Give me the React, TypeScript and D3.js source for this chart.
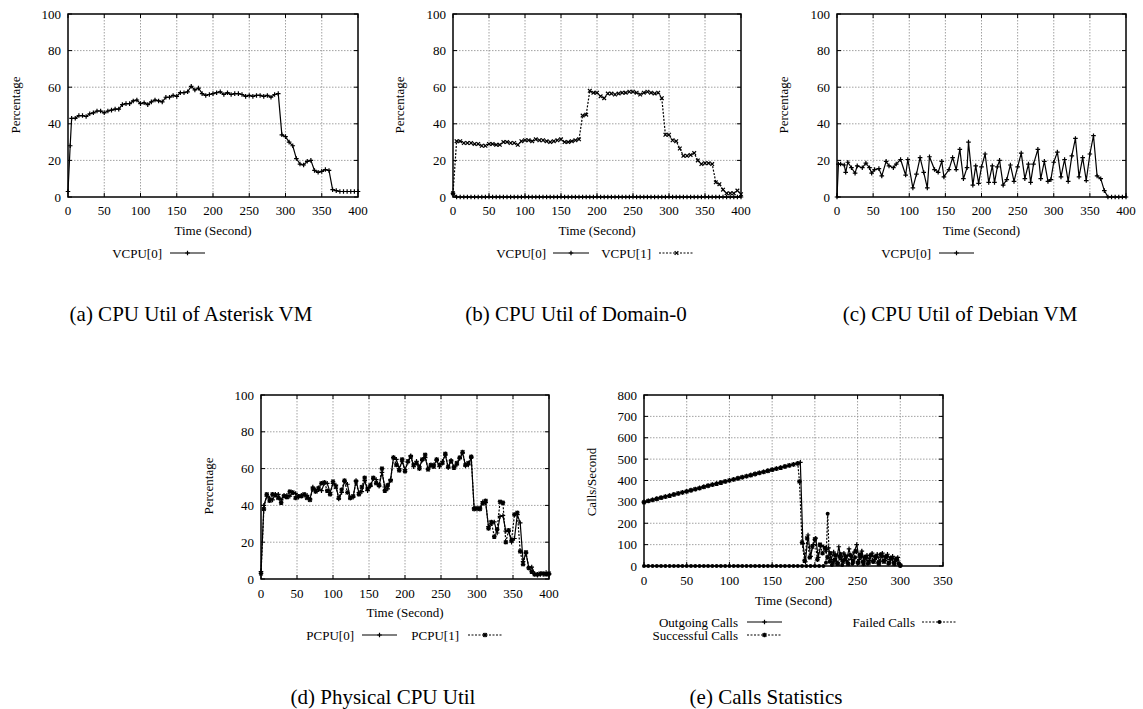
import React from 'react';
import * as d3 from 'd3';

const FONT = '"Liberation Serif", "Times New Roman", Times, serif';

// ---------- axis ticks ----------
const pctTicks = [0, 20, 40, 60, 80, 100];
const time400Ticks = [0, 50, 100, 150, 200, 250, 300, 350, 400];
const time350Ticks = [0, 50, 100, 150, 200, 250, 300, 350];
const callsTicks = [0, 100, 200, 300, 400, 500, 600, 700, 800];

// ---------- (a) CPU Util of Asterisk VM ----------
const asteriskTime = [0, 3, ...d3.range(5, 401, 5)];
const asteriskVcpu0 = [3, 28,
  43, 43, 44.5, 44.5, 44, 45.5, 46, 47, 47, 46,
  47, 47.5, 48, 48, 50.5, 51, 51, 52.5, 53, 51,
  51.5, 50.5, 52, 53, 52.5, 52, 54.5, 54.5, 55.5, 55,
  57, 57, 57.5, 60.5, 58.5, 59.5, 56.5, 55.5, 56, 56.5,
  57, 57.5, 56, 57, 56, 56.5, 56.5, 56, 55, 55.5,
  55, 55.5, 55.5, 55, 55.5, 54.5, 56, 56.5, 34, 33,
  30, 28, 21, 18, 17.5, 19.5, 20, 14.5, 13.5, 14,
  15, 14.5, 4, 3.5, 3, 3, 3, 3, 3, 3];

// ---------- (b) CPU Util of Domain-0 ----------
const domTime = d3.range(0, 401, 5);
const domVcpu0 = [2, 0, 0, 0, 0, 0, 0, 0, 0, 0, 0, 0, 0, 0, 0, 0, 0, 0, 0, 0,
  0, 0, 0, 0, 0, 0, 0, 0, 0, 0, 0, 0, 0, 0, 0, 0, 0, 0, 0, 0,
  0, 0, 0, 0, 0, 0, 0, 0, 0, 0, 0, 0, 0, 0, 0, 0, 0, 0, 0, 0,
  0, 0, 0, 0, 0, 0, 0, 0, 0, 0, 0, 0, 0, 0, 0, 0, 0, 0, 0, 0, 0];
const domVcpu1 = [2, 30.5, 30.5, 29.5, 29.5, 29.5, 29, 29, 28, 28,
  29, 29, 28.5, 28.5, 30, 30, 29.5, 29.5, 28.5, 30.5,
  31, 31, 30.5, 31.5, 31, 31, 30.5, 30, 30.5, 31,
  31.5, 30, 30, 30.5, 31, 31.5, 44.5, 45, 58, 57,
  57, 55, 54, 56.5, 56.5, 56, 56.5, 57, 57, 57.5,
  57.5, 57, 56, 57, 57.5, 57, 56.5, 57, 54, 34,
  34, 31, 30.5, 26.5, 22.5, 22.5, 23, 24, 20, 18,
  18.5, 18.5, 18, 8, 7, 4, 2, 2, 2, 3.5, 1.5];

// ---------- (c) CPU Util of Debian VM ----------
const debTime = [0, 2, 5, 10, 12, 15, 20, 25, 28, 35, 40, 45, 48, 52, 58, 62, 68, 72, 78, 82,
  88, 95, 98, 105, 110, 115, 120, 125, 128, 135, 140, 145, 148, 155, 160, 165, 170, 175, 180, 182,
  188, 192, 196, 200, 205, 210, 215, 218, 222, 225, 230, 235, 240, 245, 250, 255, 260, 265, 268, 272,
  278, 282, 287, 292, 296, 300, 305, 310, 315, 320, 325, 330, 335, 340, 345, 350, 355, 360, 365, 370,
  375, 380, 385, 390, 395, 400];
const debVcpu0 = [0, 18, 18, 17.5, 13.5, 19, 16, 13, 17, 16, 18.5, 16, 13, 15, 15.5, 11.5, 19.5, 17, 16, 18,
  20.5, 12, 20.5, 5, 12.5, 21.5, 13.5, 5, 22, 15, 13.5, 19.5, 11, 15, 21.5, 15, 26, 10, 16, 30,
  6.5, 17, 7.5, 16.5, 23.5, 8, 17, 8, 16.5, 20, 6.5, 9.5, 17.5, 8.5, 16.5, 24, 10, 18, 8, 18,
  26, 10, 19.5, 8.5, 9.5, 19, 24.5, 11, 20.5, 8.5, 22.5, 32, 11, 21.5, 9, 23.5, 33.5, 11.5, 10, 3.5,
  0, 0, 0, 0, 0, 0];

// ---------- (d) Physical CPU Util ----------
const physTime = d3.range(0, 401, 4);
const physPcpu0 = [4, 40, 45, 44, 43, 46, 46, 43, 45.5, 45.5,
  45, 47, 46.5, 44.5, 45.5, 45.5, 45.5, 43.5, 50, 48.5,
  48.5, 48, 52, 52, 47, 52, 51, 43.5, 47, 53,
  51.5, 44, 44.5, 53.5, 47, 47.5, 53.5, 48, 50.5, 54.5,
  54, 50.5, 58, 50, 49, 54, 66, 65, 60, 64,
  59.5, 63.5, 67, 61, 64, 61, 64.5, 66, 60, 61.5,
  62, 64.5, 61, 64, 67.5, 60.5, 64.5, 61, 62, 65.5,
  68.5, 61.5, 62, 66, 38.5, 38, 38.5, 42, 41.5, 28.5,
  30, 31, 25, 34, 34.5, 26, 26, 20, 22, 35,
  30.5, 9.5, 14, 6, 6.5, 3, 2, 2.5, 2.5, 3.5,
  2.5];
const physPcpu1 = [3, 38, 46, 42.5, 46, 45.5, 44, 41.5, 45, 44.5,
  47.5, 47, 44, 45, 45, 46, 44, 43, 49, 47.5,
  49.5, 52, 52.5, 48, 46, 53, 50, 44, 48.5, 53.5,
  47, 44, 45, 53, 46, 50, 55, 49, 51, 55,
  52, 51, 60, 48, 51, 53.5, 66, 62, 59, 65,
  58.5, 64, 66.5, 62, 63, 60, 65, 67.5, 59.5, 62,
  61, 65, 62, 63, 68, 61, 64, 60.5, 63, 66,
  69, 62, 63, 66.5, 38, 38.5, 38, 41, 42.5, 27.5,
  31, 23, 27, 42, 41.5, 20, 26.5, 21, 35, 36,
  15, 8, 14.5, 6, 4, 2.5, 2.5, 3, 3, 2.5,
  3];

// ---------- (e) Calls Statistics ----------
const outgoingTime = [...d3.range(0, 181, 5), 183, ...d3.range(186, 301, 3)];
const outgoingCalls = [300, 305, 310, 315, 320, 325, 330, 335, 340, 345, 350, 355, 360,
  366, 371, 376, 381, 386, 391, 396, 401, 406, 411, 416, 421, 426, 431, 436, 441, 446, 451, 456,
  461, 466, 471, 476, 481, 485,
  105, 20, 145, 45, 100, 130, 40, 95, 90, 70, 85, 30, 65, 20, 90, 30, 60, 25, 80, 30,
  65, 100, 30, 70, 20, 50, 25, 60, 30, 55, 20, 60, 25, 55, 30, 45, 20, 40, 5];
const successfulTime = [...d3.range(0, 181, 5), 182, ...d3.range(185, 299, 3), 300];
const successfulCalls = [298, 304, 309, 314, 319, 324, 329, 334, 339, 344, 349, 354, 359,
  364, 370, 375, 380, 385, 390, 395, 400, 405, 410, 415, 420, 425, 430, 435, 440, 445, 450, 455,
  460, 465, 470, 475, 480, 395,
  110, 25, 130, 40, 90, 125, 30, 100, 60, 85, 40, 60, 15, 50, 10, 55, 20, 45, 10, 50,
  20, 70, 15, 45, 10, 40, 15, 50, 20, 45, 10, 50, 20, 45, 15, 35, 10, 30, 3];
const failedTime = [...d3.range(0, 211, 5), 213, 215, 217, 220, 223, 226, 229, 232, 235, 238,
  241, 244, 247, 250, 253, 256, 259, 262, 265, 268, 271, 274, 277, 280, 283, 286, 289, 292, 295, 298, 300];
const failedCalls = [0, 0, 0, 0, 0, 0, 0, 0, 0, 0, 0, 0, 0, 0, 0, 0, 0, 0, 0, 0,
  0, 0, 0, 0, 0, 0, 0, 0, 0, 0, 0, 0, 0, 0, 0, 0, 0, 0, 0, 0, 0, 0, 0,
  15, 245, 20, 5, 30, 10, 45, 5, 30, 15, 50, 10, 40, 15, 55, 20, 45, 10, 50, 20,
  45, 15, 55, 25, 45, 10, 40, 15, 35, 10, 0];

type MarkerType = 'plus' | 'cross' | 'star' | 'dot';

type Series = { t: number[]; v: number[]; dashed: boolean; marker: MarkerType };

type LegendItem = { label: string; textEnd: number; x1: number; x2: number; y: number; dashed: boolean; marker: MarkerType };

function Marker({ x, y, type }: { x: number; y: number; type: MarkerType }) {
  const s = 2.3;
  if (type === 'dot') return <circle cx={x} cy={y} r={2} fill="#000" />;
  let d = '';
  if (type === 'plus' || type === 'star') d += `M${x - s},${y}H${x + s}M${x},${y - s}V${y + s}`;
  if (type === 'cross' || type === 'star') d += `M${x - s * 0.8},${y - s * 0.8}L${x + s * 0.8},${y + s * 0.8}M${x - s * 0.8},${y + s * 0.8}L${x + s * 0.8},${y - s * 0.8}`;
  return <path d={d} stroke="#000" strokeWidth={1.2} fill="none" />;
}

type PanelProps = {
  x0: number; x1: number; yTop: number; yBot: number;
  xMax: number; xTicks: number[]; yMax: number; yTicks: number[];
  series: Series[];
  yLabel: string; yLabelX: number; yLabelY: number;
  tickLabelY: number; titleY: number;
  legend: LegendItem[];
  caption: string; captionX: number; captionY: number;
};

function Panel(p: PanelProps) {
  const x = d3.scaleLinear().domain([0, p.xMax]).range([p.x0, p.x1]);
  const y = d3.scaleLinear().domain([0, p.yMax]).range([p.yBot, p.yTop]);
  const cx = (p.x0 + p.x1) / 2;
  return (
    <g>
      {p.xTicks.filter(t => t > 0 && t < p.xMax).map(t => (
        <line key={'gx' + t} x1={x(t)} x2={x(t)} y1={p.yTop} y2={p.yBot} stroke="#8a8a8a" strokeWidth={0.8} strokeDasharray="1.5,1.5" />
      ))}
      {p.yTicks.filter(t => t > 0 && t < p.yMax).map(t => (
        <line key={'gy' + t} y1={y(t)} y2={y(t)} x1={p.x0} x2={p.x1} stroke="#8a8a8a" strokeWidth={0.8} strokeDasharray="1.5,1.5" />
      ))}
      {p.xTicks.map(t => (
        <g key={'tx' + t}>
          <line x1={x(t)} x2={x(t)} y1={p.yBot} y2={p.yBot - 4} stroke="#000" strokeWidth={1} />
          <line x1={x(t)} x2={x(t)} y1={p.yTop} y2={p.yTop + 4} stroke="#000" strokeWidth={1} />
          <text x={x(t)} y={p.tickLabelY} textAnchor="middle" dominantBaseline="central" fontSize={13} fontFamily={FONT}>{t}</text>
        </g>
      ))}
      {p.yTicks.map(t => (
        <g key={'ty' + t}>
          <line x1={p.x0} x2={p.x0 + 4} y1={y(t)} y2={y(t)} stroke="#000" strokeWidth={1} />
          <line x1={p.x1} x2={p.x1 - 4} y1={y(t)} y2={y(t)} stroke="#000" strokeWidth={1} />
          <text x={p.x0 - 7} y={y(t)} textAnchor="end" dominantBaseline="central" fontSize={13} fontFamily={FONT}>{t}</text>
        </g>
      ))}
      {p.series.map((s, i) => {
        const pts = s.t.map((t, j) => [x(t), y(s.v[j])] as [number, number]);
        return (
          <g key={'s' + i}>
            <path d={d3.line()(pts) || ''} fill="none" stroke="#000" strokeWidth={1.2} strokeDasharray={s.dashed ? '2,1.5' : undefined} />
            {pts.map((q, j) => <Marker key={j} x={q[0]} y={q[1]} type={s.marker} />)}
          </g>
        );
      })}
      <rect x={p.x0} y={p.yTop} width={p.x1 - p.x0} height={p.yBot - p.yTop} fill="none" stroke="#000" strokeWidth={1.5} />
      <text x={cx} y={p.titleY} textAnchor="middle" dominantBaseline="central" fontSize={13} fontFamily={FONT}>Time (Second)</text>
      <text transform={`translate(${p.yLabelX},${p.yLabelY}) rotate(-90)`} textAnchor="middle" dominantBaseline="central" fontSize={13} fontFamily={FONT}>{p.yLabel}</text>
      {p.legend.map((l, i) => (
        <g key={'l' + i}>
          <text x={l.textEnd} y={l.y} textAnchor="end" dominantBaseline="central" fontSize={13} fontFamily={FONT}>{l.label}</text>
          <line x1={l.x1} x2={l.x2} y1={l.y} y2={l.y} stroke="#000" strokeWidth={1.1} strokeDasharray={l.dashed ? '2,1.5' : undefined} />
          <Marker x={(l.x1 + l.x2) / 2} y={l.y} type={l.marker} />
        </g>
      ))}
      <text x={p.captionX} y={p.captionY} textAnchor="middle" dominantBaseline="central" fontSize={21} fontFamily={FONT}>{p.caption}</text>
    </g>
  );
}

export default function App() {
  return (
    <svg width={1143} height={709} style={{ position: 'absolute', left: 0, top: 0, background: '#fff' }}>
      <rect x={0} y={0} width={1143} height={709} fill="#fff" />
      <Panel x0={68} x1={358} yTop={14} yBot={197} xMax={400} xTicks={time400Ticks} yMax={100} yTicks={pctTicks}
        series={[{ t: asteriskTime, v: asteriskVcpu0, dashed: false, marker: 'plus' }]}
        yLabel="Percentage" yLabelX={15} yLabelY={105} tickLabelY={210} titleY={230}
        legend={[{ label: 'VCPU[0]', textEnd: 162, x1: 170, x2: 205, y: 253, dashed: false, marker: 'plus' }]}
        caption="(a) CPU Util of Asterisk VM" captionX={191} captionY={314} />
      <Panel x0={453} x1={741} yTop={14} yBot={197} xMax={400} xTicks={time400Ticks} yMax={100} yTicks={pctTicks}
        series={[{ t: domTime, v: domVcpu0, dashed: false, marker: 'plus' }, { t: domTime, v: domVcpu1, dashed: true, marker: 'cross' }]}
        yLabel="Percentage" yLabelX={399} yLabelY={105} tickLabelY={210} titleY={230}
        legend={[
          { label: 'VCPU[0]', textEnd: 546, x1: 553, x2: 589, y: 253, dashed: false, marker: 'plus' },
          { label: 'VCPU[1]', textEnd: 651, x1: 659, x2: 694, y: 253, dashed: true, marker: 'cross' },
        ]}
        caption="(b) CPU Util of Domain-0" captionX={576} captionY={314} />
      <Panel x0={837} x1={1126} yTop={14} yBot={197} xMax={400} xTicks={time400Ticks} yMax={100} yTicks={pctTicks}
        series={[{ t: debTime, v: debVcpu0, dashed: false, marker: 'plus' }]}
        yLabel="Percentage" yLabelX={783} yLabelY={105} tickLabelY={210} titleY={230}
        legend={[{ label: 'VCPU[0]', textEnd: 931, x1: 939, x2: 974, y: 253, dashed: false, marker: 'plus' }]}
        caption="(c) CPU Util of Debian VM" captionX={960} captionY={314} />
      <Panel x0={261} x1={549} yTop={395} yBot={579} xMax={400} xTicks={time400Ticks} yMax={100} yTicks={pctTicks}
        series={[{ t: physTime, v: physPcpu0, dashed: false, marker: 'plus' }, { t: physTime, v: physPcpu1, dashed: true, marker: 'star' }]}
        yLabel="Percentage" yLabelX={208} yLabelY={486} tickLabelY={593} titleY={612}
        legend={[
          { label: 'PCPU[0]', textEnd: 354, x1: 362, x2: 397, y: 635, dashed: false, marker: 'plus' },
          { label: 'PCPU[1]', textEnd: 459, x1: 468, x2: 502, y: 635, dashed: true, marker: 'star' },
        ]}
        caption="(d) Physical CPU Util" captionX={383} captionY={697} />
      <Panel x0={644} x1={943} yTop={395} yBot={566} xMax={350} xTicks={time350Ticks} yMax={800} yTicks={callsTicks}
        series={[
          { t: outgoingTime, v: outgoingCalls, dashed: false, marker: 'plus' },
          { t: successfulTime, v: successfulCalls, dashed: true, marker: 'star' },
          { t: failedTime, v: failedCalls, dashed: true, marker: 'dot' },
        ]}
        yLabel="Calls/Second" yLabelX={591} yLabelY={482} tickLabelY={580} titleY={600}
        legend={[
          { label: 'Outgoing Calls', textEnd: 738, x1: 747, x2: 782, y: 622, dashed: false, marker: 'plus' },
          { label: 'Successful Calls', textEnd: 738, x1: 747, x2: 782, y: 635, dashed: true, marker: 'star' },
          { label: 'Failed Calls', textEnd: 915, x1: 922, x2: 957, y: 622, dashed: true, marker: 'dot' },
        ]}
        caption="(e) Calls Statistics" captionX={766} captionY={697} />
    </svg>
  );
}
